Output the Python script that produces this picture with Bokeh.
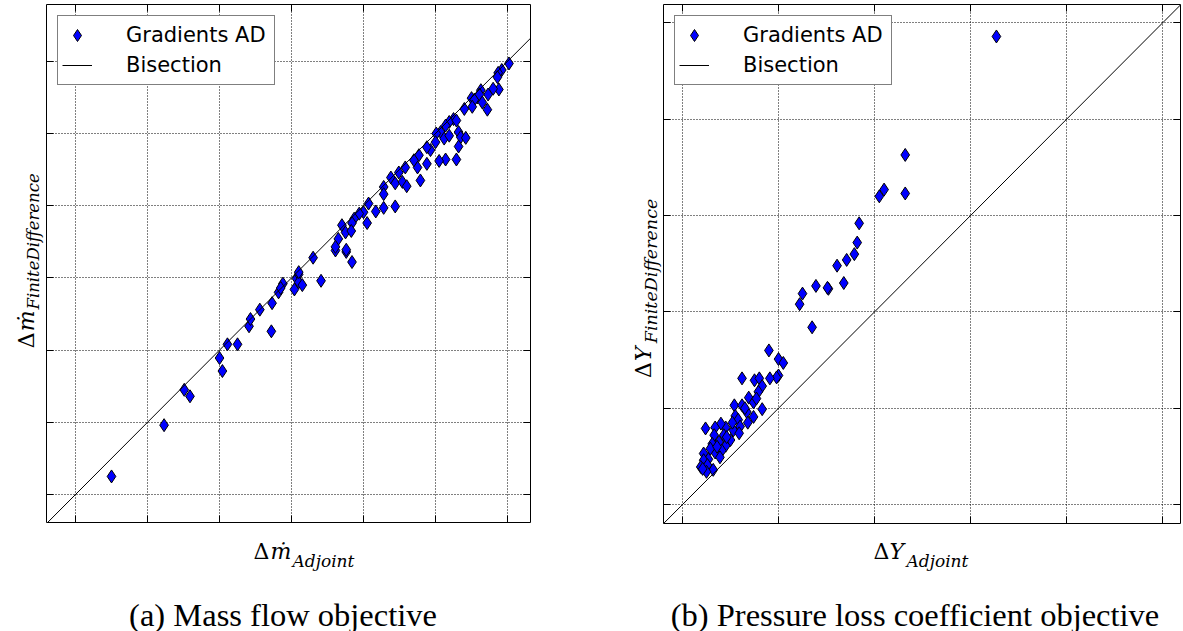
import math
from bokeh.plotting import figure
from bokeh.layouts import row, column
from bokeh.models import Range1d, FixedTicker, LinearAxis, Label, Legend, LegendItem
from bokeh.embed import file_html
from bokeh.resources import INLINE

# ---------------- data (grid units) ----------------
# (a) Mass flow objective
mass_adjoint = [0.50, 1.23, 1.51, 1.59, 2.00, 2.04, 2.11, 2.25, 2.41, 2.43, 2.56, 2.72, 2.73,
                2.82, 2.88, 2.85, 3.04, 3.07, 3.10, 3.10, 3.15, 3.41, 3.30, 3.61, 3.76, 3.84,
                6.02, 5.92, 5.87, 5.86, 5.88, 5.80, 5.73, 5.63, 5.58, 5.50, 5.54, 5.61, 5.65,
                5.72, 5.51, 5.40, 5.25, 5.19, 5.14, 5.07, 5.01, 5.29, 5.12, 5.19, 5.32, 5.35,
                5.42, 5.32, 5.29, 5.14, 5.05, 5.00, 4.93, 4.88, 4.77, 4.88, 4.75, 4.70, 4.58,
                4.49, 4.38, 4.44, 4.54, 4.60, 4.79, 4.28, 4.28, 4.28, 4.44, 4.17, 4.07, 4.00,
                4.05, 3.94, 3.87, 3.84, 3.70, 3.75, 3.83, 3.65, 3.61, 3.76, 3.10]
mass_fd = [0.25, 0.96, 1.45, 1.36, 1.89, 1.71, 2.08, 2.08, 2.33, 2.43, 2.56, 2.26, 2.65,
           2.80, 2.92, 2.86, 2.84, 2.99, 3.05, 2.94, 2.90, 2.96, 3.28, 3.38, 3.36, 3.22,
           5.97, 5.88, 5.84, 5.78, 5.61, 5.62, 5.54, 5.60, 5.50, 5.49, 5.47, 5.54, 5.43,
           5.33, 5.37, 5.34, 5.20, 5.16, 5.11, 5.02, 5.00, 5.18, 4.93, 4.97, 5.02, 4.95,
           4.94, 4.82, 4.64, 4.64, 4.62, 4.88, 4.77, 4.81, 4.70, 4.58, 4.53, 4.63, 4.53,
           4.46, 4.39, 4.31, 4.33, 4.27, 4.35, 4.26, 4.16, 3.97, 3.99, 3.92, 4.03, 3.91,
           3.76, 3.89, 3.82, 3.76, 3.73, 3.63, 3.65, 3.54, 3.43, 3.39, 3.08]

# (b) Pressure loss coefficient objective
loss_adjoint = [3.27, 2.32, 2.32, 2.10, 2.05, 1.84, 1.82, 1.79, 1.71, 1.61, 1.68, 1.52, 1.51,
                1.39, 1.25, 1.22, 1.35, 0.90, 1.00, 1.05, 1.00, 0.98, 0.91, 0.62, 0.75, 0.80,
                0.83, 0.79, 0.69, 0.74, 0.83, 0.54, 0.62, 0.67, 0.55, 0.58, 0.74, 0.68, 0.60,
                0.53, 0.59, 0.45, 0.40, 0.34, 0.24, 0.33, 0.43, 0.50, 0.38, 0.31, 0.45, 0.41,
                0.34, 0.29, 0.22, 0.39, 0.27, 0.22, 0.19, 0.26, 0.32, 0.25, 0.21, 0.46, 0.36,
                0.52, 0.65, 0.77]
loss_fd = [4.86, 3.63, 3.23, 3.27, 3.20, 2.92, 2.72, 2.60, 2.54, 2.48, 2.30, 2.24, 2.25,
           2.27, 2.19, 2.08, 1.84, 1.60, 1.51, 1.47, 1.34, 1.32, 1.31, 1.31, 1.29, 1.31,
           1.23, 1.17, 1.11, 1.06, 0.99, 1.03, 1.03, 0.96, 0.92, 0.88, 0.91, 0.85, 0.81,
           0.77, 0.74, 0.80, 0.84, 0.80, 0.79, 0.72, 0.72, 0.67, 0.65, 0.63, 0.61, 0.56,
           0.54, 0.58, 0.53, 0.49, 0.47, 0.46, 0.39, 0.41, 0.36, 0.34, 0.37, 0.70, 0.60,
           0.85, 1.00, 1.10]

mass_ticks = [0, 1, 2, 3, 4, 5, 6]
loss_ticks = [0, 1, 2, 3, 4, 5]

series_name = "Gradients AD"
line_name = "Bisection"
caption_a = "(a) Mass flow objective"
caption_b = "(b) Pressure loss coefficient objective"

SERIF = "'Liberation Serif', serif"
MATH = "'DejaVu Serif', serif"
SANS = "DejaVu Sans"


def make_panel(xs, ys, ticks, xr, yr, fw, fh, bl, bt, br, bb):
    p = figure(frame_width=fw, frame_height=fh,
               x_range=Range1d(*xr), y_range=Range1d(*yr),
               output_backend="svg", toolbar_location=None, tools="",
               min_border_left=bl, min_border_top=bt,
               min_border_right=br, min_border_bottom=bb)
    p.background_fill_color = "white"
    p.border_fill_color = "white"
    p.outline_line_color = "black"
    p.outline_line_width = 1
    p.outline_line_alpha = 1

    p.add_layout(LinearAxis(), "above")
    p.add_layout(LinearAxis(), "right")
    for ax in p.axis:
        ax.ticker = FixedTicker(ticks=ticks)
        ax.major_tick_in = 7
        ax.major_tick_out = 0
        ax.minor_tick_in = 0
        ax.minor_tick_out = 0
        ax.major_tick_line_color = "black"
        ax.axis_line_color = None
        ax.major_label_text_font_size = "0px"
        ax.major_label_text_alpha = 0
        ax.major_label_standoff = 0
        ax.axis_label = None
    for g in p.grid:
        g.ticker = FixedTicker(ticks=ticks)
        g.grid_line_color = "black"
        g.grid_line_dash = "1 2"
        g.grid_line_width = 1
        g.grid_line_alpha = 1

    sc = p.scatter(xs, ys, marker="diamond", size=13, fill_color="#0000ff",
                   line_color="black", line_width=1)
    lo = min(xr[0], yr[0])
    hi = max(xr[1], yr[1])
    ln = p.line([lo, hi], [lo, hi], line_color="black", line_width=1)

    leg = Legend(items=[LegendItem(label=series_name, renderers=[sc]),
                        LegendItem(label=line_name, renderers=[ln])],
                 location="top_left", margin=11, padding=4, spacing=0,
                 glyph_width=30, glyph_height=30, label_height=30, label_width=144,
                 label_standoff=34, label_text_font=SANS, label_text_font_size="21px",
                 label_text_color="black",
                 border_line_color="black", border_line_width=1,
                 background_fill_color="white", background_fill_alpha=1)
    p.add_layout(leg, "center")
    return p


def text_panel(w, h, ox, oy):
    """A blank canvas whose data coordinates are page pixels (y downward)."""
    f = figure(width=w, height=h, x_range=Range1d(ox, ox + w), y_range=Range1d(oy + h, oy),
               output_backend="svg", toolbar_location=None, tools="",
               x_axis_type=None, y_axis_type=None,
               min_border_left=0, min_border_right=0, min_border_top=0, min_border_bottom=0)
    f.outline_line_color = None
    f.background_fill_color = "white"
    f.border_fill_color = "white"
    f.grid.visible = False

    def txt(px, py, text, size, font=MATH, style="normal", angle=0.0, align="left"):
        f.add_layout(Label(x=px, y=py, text=text, text_font=font, text_font_size=f"{size}px",
                           text_font_style=style, angle=angle, text_align=align,
                           text_baseline="alphabetic", text_color="black"))
    return f, txt


UP = math.pi / 2

# ---- panel (a): frame x 46..530, y 4..522 ----
pa = make_panel(mass_adjoint, mass_fd, mass_ticks, (-0.403, 6.319), (-0.388, 6.787),
                484, 518, 1, 4, 62, 1)
ya, tya = text_panel(45, 523, 0, 0)
tya(26, 347, "Δ", 22, angle=UP)
tya(26, 330, "ṁ", 22, style="italic", angle=UP)
tya(33, 308, "FiniteDifference", 16.5, style="italic", angle=UP)
ba, tba = text_panel(592, 108, 0, 523)
tba(253, 551, "Δ", 22)
tba(270, 551, "ṁ", 22, style="italic")
tba(292, 560, "Adjoint", 17, style="italic")
tba(282.5, 614, caption_a, 32.5, font=SERIF, align="center")

# ---- panel (b): frame x 663..1180, y 4..523 ----
pb = make_panel(loss_adjoint, loss_fd, loss_ticks, (-0.198, 5.1875), (-0.197, 5.192),
                517, 519, 1, 4, 3, 1)
yb, tyb = text_panel(70, 524, 592, 0)
tyb(643, 377, "Δ", 22, angle=UP)
tyb(643, 360, "Y", 22, style="italic", angle=UP)
tyb(650, 342, "FiniteDifference", 17.5, style="italic", angle=UP)
bb, tbb = text_panel(591, 107, 592, 524)
tbb(873, 551, "Δ", 22)
tbb(889, 551, "Y", 22, style="italic")
tbb(906, 560, "Adjoint", 17, style="italic")
tbb(914.5, 614, caption_b, 32.5, font=SERIF, align="center")

layout = row(column(row(ya, pa), ba), column(row(yb, pb), bb))
open("out.html", "w").write(file_html(layout, INLINE))
